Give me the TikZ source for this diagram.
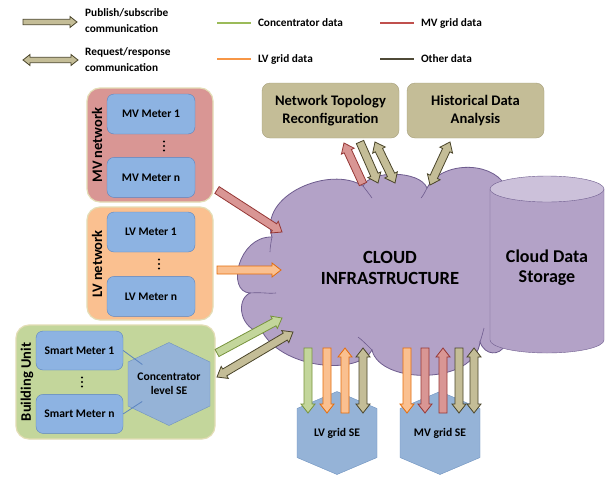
\documentclass[tikz,border=0pt]{standalone}
\usepackage{fontspec}
\setmainfont{Carlito}
\usetikzlibrary{calc,positioning}

\definecolor{mvfill}{HTML}{D99694}
\definecolor{lvfill}{HTML}{FAC090}
\definecolor{bufill}{HTML}{C3D69B}
\definecolor{panelline}{HTML}{E3DDB5}
\definecolor{meterfill}{HTML}{8DB3E2}
\definecolor{meterline}{HTML}{5B84C0}
\definecolor{hexfill}{HTML}{95B3D7}
\definecolor{hexline}{HTML}{6F93C0}
\definecolor{cloudfill}{HTML}{B3A2C7}
\definecolor{cloudline}{HTML}{6E5C8E}
\definecolor{cloudtop}{HTML}{CCC1DA}
\definecolor{tanfill}{HTML}{C4BD97}
\definecolor{tanbox}{HTML}{A7A07C}
\definecolor{tanline}{HTML}{4A452A}
\definecolor{greenline}{HTML}{77933C}
\definecolor{orangeline}{HTML}{E46C0A}
\definecolor{redline}{HTML}{953735}
\definecolor{lggreen}{HTML}{9BBB59}
\definecolor{lgorange}{HTML}{F79646}
\definecolor{lgred}{HTML}{C0504D}
\definecolor{lgother}{HTML}{4F4A37}

% block arrows between two named points
\def\shaft{4pt}\def\headw{7pt}\def\headlen{9pt}
\newcommand\sarrow[3]{%
  \draw[#1] ($(#2)!\shaft!90:(#3)$)
    -- ($($(#3)!\headlen!(#2)$)!\shaft!90:(#3)$)
    -- ($($(#3)!\headlen!(#2)$)!\headw!90:(#3)$)
    -- (#3)
    -- ($($(#3)!\headlen!(#2)$)!\headw!-90:(#3)$)
    -- ($($(#3)!\headlen!(#2)$)!\shaft!-90:(#3)$)
    -- ($(#2)!\shaft!-90:(#3)$) -- cycle;}
\newcommand\darrow[3]{%
  \draw[#1] (#2)
    -- ($($(#2)!\headlen!(#3)$)!\headw!90:(#3)$)
    -- ($($(#2)!\headlen!(#3)$)!\shaft!90:(#3)$)
    -- ($($(#3)!\headlen!(#2)$)!\shaft!90:(#3)$)
    -- ($($(#3)!\headlen!(#2)$)!\headw!90:(#3)$)
    -- (#3)
    -- ($($(#3)!\headlen!(#2)$)!\headw!-90:(#3)$)
    -- ($($(#3)!\headlen!(#2)$)!\shaft!-90:(#3)$)
    -- ($($(#2)!\headlen!(#3)$)!\shaft!-90:(#3)$)
    -- ($($(#2)!\headlen!(#3)$)!\headw!-90:(#3)$)
    -- cycle;}
% hexagon round a point: half width, side offset
\newcommand\hexshape[3]{%
  \draw[hexbox] ($(#1)+(0,-41.5)$) -- ($(#1)+(#2,-#3)$) -- ($(#1)+(#2,#3)$)
    -- ($(#1)+(0,41.5)$) -- ($(#1)+(-#2,#3)$) -- ($(#1)+(-#2,-#3)$) -- cycle;}
% vertical dots
\newcommand\vdotsat[1]{%
  \foreach \d in {-4.5,0,4.5} \fill ($(#1)+(0,\d)$) circle (1.1pt);}

\tikzset{
  panel/.style={draw=panelline, line width=1.2pt, rounded corners=13pt},
  meter/.style={draw=meterline, fill=meterfill, rounded corners=7pt,
    minimum width=88pt, minimum height=40pt, inner sep=1pt,
    font=\bfseries\fontsize{11.6}{13}\selectfont},
  sidelabel/.style={rotate=90, inner sep=0pt, font=\bfseries\fontsize{14.5}{17}\selectfont},
  hexbox/.style={draw=hexline, fill=hexfill},
  hexlabel/.style={align=center, inner sep=0pt, font=\bfseries\fontsize{11.6}{14}\selectfont},
  taskbox/.style={draw=tanbox, fill=tanfill, rounded corners=8pt, minimum width=137pt,
    minimum height=55pt, align=center, font=\bfseries\fontsize{14.6}{18}\selectfont},
  legtext/.style={anchor=west, align=left, inner sep=0pt, font=\bfseries\fontsize{11.3}{16}\selectfont},
  lgline/.style={line width=2pt},
  cloudbody/.style={draw=cloudline, fill=cloudfill, line width=0.8pt},
  seam/.style={draw=cloudline, line width=0.6pt},
  grnarrow/.style={fill=bufill, draw=greenline, line width=0.8pt},
  orgarrow/.style={fill=lvfill, draw=orangeline, line width=0.8pt},
  redarrow/.style={fill=mvfill, draw=redline, line width=0.8pt},
  tanarrow/.style={fill=tanfill, draw=tanline, line width=0.8pt},
}

\begin{document}
\begin{tikzpicture}[x=1pt, y=-1pt]
\path[fill=white, use as bounding box] (0,0) rectangle (613,477);

% legend
\def\shaft{2.7pt}\def\headw{5.5pt}\def\headlen{7pt}
\coordinate (pubtail) at (23,22);
\coordinate (pubtip) at (77,22);
\coordinate (reqa) at (23,60);
\coordinate (reqb) at (78,60);
\sarrow{tanarrow}{pubtail}{pubtip}
\darrow{tanarrow}{reqa}{reqb}
\node[legtext] (pubtxt) at (85,21) {Publish/subscribe\\communication};
\node[legtext] (reqtxt) at (85,60) {Request/response\\communication};
\draw[lgline, lggreen] (217,23) -- (251,23) node[legtext, black, xshift=6pt] {Concentrator data};
\draw[lgline, lgorange] (217,59) -- (251,59) node[legtext, black, xshift=6pt] {LV grid data};
\draw[lgline, lgred] (380,23) -- (414,23) node[legtext, black, xshift=6pt] {MV grid data};
\draw[lgline, lgother] (380,59) -- (414,59) node[legtext, black, xshift=6pt] {Other data};

% MV network
\node[panel, fill=mvfill, minimum width=126pt, minimum height=114pt] (mvnet) at (150,145) {};
\node[meter] (mvm1) at (151,114) {MV Meter 1};
\node[meter, below=23pt of mvm1] (mvmn) {MV Meter n};
\vdotsat{164,146}
\node[sidelabel] at (97,145) {MV network};

% LV network
\node[panel, fill=lvfill, minimum width=126pt, minimum height=113pt] (lvnet) at (150,263.5) {};
\node[meter] (lvm1) at (151,232) {LV Meter 1};
\node[meter, below=24pt of lvm1] (lvmn) {LV Meter n};
\vdotsat{159,264}
\node[sidelabel] at (97,264) {LV network};

% building unit
\node[panel, fill=bufill, minimum width=199pt, minimum height=114pt] (bunit) at (115.5,382) {};
\node[meter, minimum width=87pt, minimum height=39pt] (sm1) at (79.5,350.5) {Smart Meter 1};
\node[meter, minimum width=87pt, minimum height=39pt, below=24pt of sm1] (smn) {Smart Meter n};
\vdotsat{82,382}
\node[sidelabel] at (27,382) {Building Unit};
\coordinate (concc) at (169,384);
\hexshape{concc}{41}{22}
\node[hexlabel] (conc) at (concc) {Concentrator\\level SE};
\draw[meterline, line width=0.8pt, shorten >=33pt] (sm1.east) -- (conc.center);
\draw[meterline, line width=0.8pt, shorten >=32pt] (smn.east) -- (conc.center);

% grid state estimators
\coordinate (lvsec) at (337,433);
\coordinate (mvsec) at (440,433);
\hexshape{lvsec}{40}{24.5}
\hexshape{mvsec}{40}{24.5}
\node[hexlabel] (lvse) at (lvsec) {LV grid SE};
\node[hexlabel] (mvse) at (mvsec) {MV grid SE};

% cloud and storage
\draw[cloudbody] (250,293)
  .. controls (226,292) and (238,236) .. (272,237)
  .. controls (258,195) and (330,165) .. (363,186)
  .. controls (370,170) and (420,170) .. (427,188)
  .. controls (440,162) and (490,160) .. (505,185)
  .. controls (525,220) and (525,320) .. (505,345)
  .. controls (500,356) and (485,356) .. (480,342)
  .. controls (475,385) and (380,385) .. (372,350)
  .. controls (360,375) and (285,370) .. (263,333)
  .. controls (240,330) and (235,300) .. (250,293) -- cycle;
\draw[seam] (250,293) .. controls (262,292) and (270,294) .. (276,293);
\draw[seam] (272,237) .. controls (271,242) and (270,248) .. (270,252);
\draw[seam] (363,186) .. controls (366,190) and (370,195) .. (372,198);
\draw[seam] (427,188) .. controls (425,192) and (423,196) .. (421,198);
\draw[seam] (372,350) .. controls (366,344) and (362,340) .. (358,337);
\draw[seam] (480,342) .. controls (482,336) and (483,332) .. (484,328);
\node[align=center, font=\bfseries\fontsize{18.6}{21}\selectfont] (cloudtxt) at (390,268) {CLOUD\\INFRASTRUCTURE};
\draw[cloudline, fill=cloudfill] (490,189) -- (490,340)
  arc[start angle=180, end angle=0, x radius=57, y radius=13] -- (604,189) -- cycle;
\draw[cloudline, fill=cloudtop] (547,189) ellipse [x radius=57, y radius=13];
\node[align=center, font=\bfseries\fontsize{18}{20}\selectfont] (store) at (547,268) {Cloud Data\\Storage};

% applications
\node[taskbox] (ntr) at (330.5,110.5) {Network Topology\\Reconfiguration};
\node[taskbox] (hda) at (475.5,110.5) {Historical Data\\Analysis};

% arrows
\def\shaft{4pt}\def\headw{7pt}\def\headlen{9pt}
\coordinate (ntr1a) at (363,184); \coordinate (ntr1b) at (344,143);
\coordinate (ntr2a) at (360,142); \coordinate (ntr2b) at (378,183);
\coordinate (ntr3a) at (375,142); \coordinate (ntr3b) at (395,183);
\coordinate (hdaa) at (450,142);  \coordinate (hdab) at (430,185);
\sarrow{redarrow}{ntr1a}{ntr1b}
\sarrow{tanarrow}{ntr2a}{ntr2b}
\darrow{tanarrow}{ntr3a}{ntr3b}
\darrow{tanarrow}{hdaa}{hdab}

\coordinate (mvout) at (217,190); \coordinate (mvin) at (282,232);
\coordinate (lvout) at (217,270); \coordinate (lvin) at (281,270);
\coordinate (buout) at (217,353); \coordinate (buin) at (282,318);
\coordinate (buq) at (217,377);   \coordinate (bur) at (293,332);
\sarrow{redarrow}{mvout}{mvin}
\sarrow{orgarrow}{lvout}{lvin}
\sarrow{grnarrow}{buout}{buin}
\darrow{tanarrow}{buq}{bur}

\foreach \x/\from/\to/\sty/\cmd in {308/348/413/grnarrow/\sarrow, 327/348/413/orgarrow/\sarrow,
    345/413/348/orgarrow/\sarrow, 363/348/413/tanarrow/\darrow,
    407/348/413/orgarrow/\sarrow, 425/348/413/redarrow/\sarrow,
    443/413/348/redarrow/\sarrow, 459/348/413/tanarrow/\sarrow,
    474/348/413/tanarrow/\darrow}{
  \coordinate (bt) at (\x,\from);
  \coordinate (bh) at (\x,\to);
  \cmd{\sty}{bt}{bh}
}
\end{tikzpicture}
\end{document}
